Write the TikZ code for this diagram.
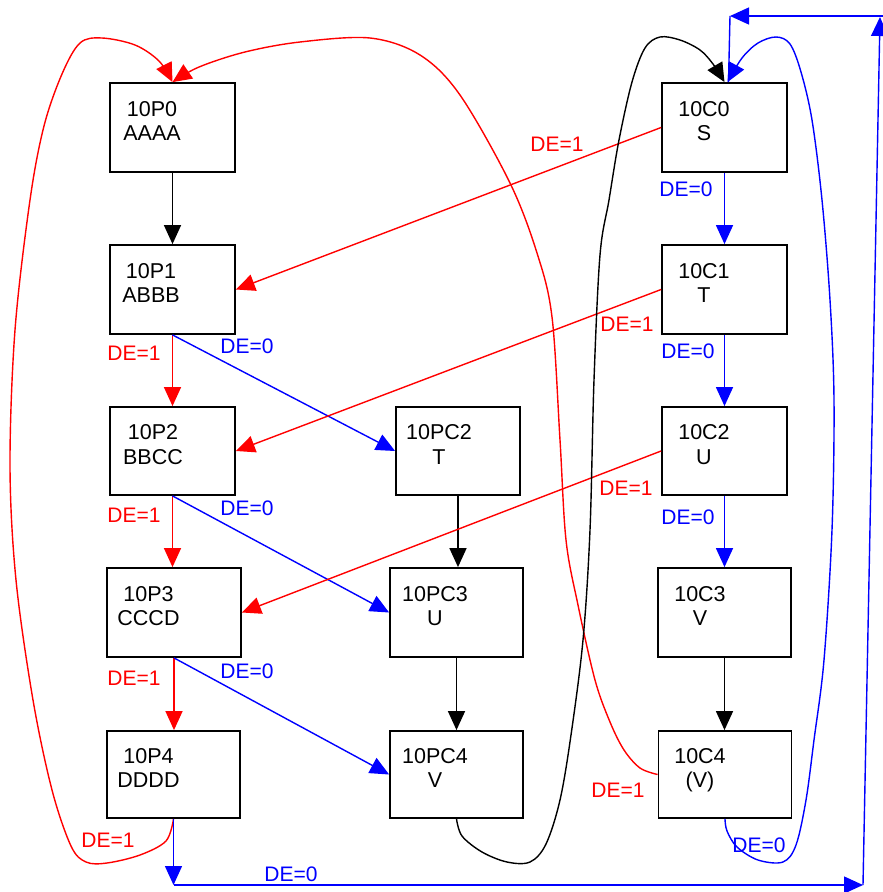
\documentclass[tikz,border=0pt]{standalone}
\usepackage{fontspec}
\setmainfont{Liberation Sans}
\usetikzlibrary{arrows.meta}
\tikzset{
  box/.style={draw=black, line width=1.8pt, inner sep=0pt},
  txt/.style={anchor=base, inner sep=0pt, font=\fontsize{21.5}{24}\selectfont},
  lbl/.style={inner sep=0pt, text height=15pt, text depth=0pt, font=\fontsize{21}{24}\selectfont},
  conn/.style={line width=1.4pt, -{Triangle[length=19pt,width=17pt]}},
  wire/.style={line width=1.4pt},
}
\newcommand\mystate[8]{%
  \node[box, minimum width=#4pt, minimum height=#5pt] (#1) at (#2,#3) {};
  \node[txt] (#1a) at (#8,#3-11.5) {#6};
  \node[txt] (#1b) at (#8,#3+13) {#7};
}
\begin{document}
\begin{tikzpicture}[x=1pt,y=-1pt]
\useasboundingbox (0,0) rectangle (883,892);
% boxes
\mystate{p0}{172.5}{127.5}{125}{89}{10P0}{AAAA}{152}
\mystate{p1}{172.5}{289.5}{125}{89}{10P1}{ABBB}{151}
\mystate{p2}{172.5}{451}{125}{88}{10P2}{BBCC}{153}
\mystate{p3}{174}{612.5}{134}{89}{10P3}{CCCD}{148.5}
\mystate{p4}{173.5}{774.5}{133}{87}{10P4}{DDDD}{148.5}
\mystate{pc2}{458}{451}{124}{88}{10PC2}{T}{439}
\mystate{pc3}{456.5}{612.5}{133}{89}{10PC3}{U}{435}
\mystate{pc4}{456.5}{774.5}{133}{87}{10PC4}{V}{435}
\mystate{c0}{724.5}{127.5}{125}{89}{10C0}{S}{704}
\mystate{c1}{724.5}{289.5}{125}{89}{10C1}{T}{704}
\mystate{c2}{724.5}{451}{125}{88}{10C2}{U}{704}
\mystate{c3}{724.5}{612.5}{133}{89}{10C3}{V}{700}
\mystate{c4}{725}{774.5}{133}{87}{10C4}{(V)}{700}

% straight connectors
\draw[conn] (p0.south) -- (p0.south |- p1.north);
\draw[conn,red] (p1.south) -- (p1.south |- p2.north);
\draw[conn,red] (p2.south) -- (p2.south |- p3.north);
\draw[conn,red] (p3.south) -- (p3.south |- p4.north);
\draw[conn,blue] (p1.south) -- (pc2.west);
\draw[conn,blue] (p2.south) -- (pc3.west);
\draw[conn,blue] (p3.south) -- (pc4.west);
\draw[conn] (pc2.south) -- (pc2.south |- pc3.north);
\draw[conn] (pc3.south) -- (pc3.south |- pc4.north);
\draw[conn,red] (c0.west) -- (p1.east);
\draw[conn,red] (c1.west) -- (p2.east);
\draw[conn,red] (c2.west) -- (p3.east);
\draw[conn,blue] (c0.south) -- (c0.south |- c1.north);
\draw[conn,blue] (c1.south) -- (c1.south |- c2.north);
\draw[conn,blue] (c2.south) -- (c2.south |- c3.north);
\draw[conn] (c3.south) -- (c3.south |- c4.north);

% curved connectors
\draw[conn,red] plot[smooth,tension=0.55] coordinates {(p4.south) (166,841) (140,855) (107,863) (86,862) (71,846) (52,790) (33,700) (16,580) (10,466) (15,330) (30,200) (44,126) (62,74) (80,43) (102,38) (135,45) (159,61) (p0.north)};
\draw[conn,red] plot[smooth,tension=0.55] coordinates {(c4.west) (640,768) (624,750) (610,722) (595,680) (578,605) (566,540) (560,440) (552,317) (537,253) (510,183) (460,95) (420,55) (370,38) (300,42) (245,52) (199,67) (p0.north)};
\draw[conn] plot[smooth,tension=0.55] coordinates {(pc4.south) (462,836) (482,852) (507,862) (530,862) (546,844) (560,800) (571,735) (583,640) (590,530) (594,380) (600,255) (609,200) (619,140) (632,82) (645,48) (660,37) (680,40) (700,50) (713,64) (c0.north)};
\draw[conn,blue] plot[smooth,tension=0.55] coordinates {(c4.south) (727,831) (737,847) (758,860) (783,862) (796,845) (806,800) (814,740) (824,660) (832,530) (834,400) (830,300) (822,200) (812,120) (801,72) (790,44) (776,37) (758,43) (742,58) ([xshift=3pt]c0.north)};

% outer blue return path
\coordinate (b1) at (173.5,885);
\coordinate (b2) at (863,885);
\coordinate (b3) at (880,17);
\coordinate (b3r) at (883,16);
\coordinate (b4) at (730,16);
\draw[conn,blue] (p4.south) -- (b1);
\draw[conn,blue] (b1) -- (b2);
\draw[conn,blue] (b2) -- (b3);
\draw[conn,blue] (b3r) -- (b4);
\draw[wire,blue] (b4) -- ([xshift=4pt]c0.north);

% labels
\node[lbl,red] (l1) at (134,353) {DE=1};
\node[lbl,blue] (l2) at (247,346) {DE=0};
\node[lbl,red] (l3) at (134,515) {DE=1};
\node[lbl,blue] (l4) at (247,508) {DE=0};
\node[lbl,red] (l5) at (134,678) {DE=1};
\node[lbl,blue] (l6) at (247,671) {DE=0};
\node[lbl,red] (l7) at (108,840) {DE=1};
\node[lbl,blue] (l8) at (291,874) {DE=0};
\node[lbl,red] (l9) at (557,144) {DE=1};
\node[lbl,red] (l10) at (627,324) {DE=1};
\node[lbl,red] (l11) at (626,488) {DE=1};
\node[lbl,blue] (l12) at (686,189) {DE=0};
\node[lbl,blue] (l13) at (688,351) {DE=0};
\node[lbl,blue] (l14) at (688,517) {DE=0};
\node[lbl,red] (l15) at (618,790) {DE=1};
\node[lbl,blue] (l16) at (759,845) {DE=0};
\end{tikzpicture}
\end{document}
